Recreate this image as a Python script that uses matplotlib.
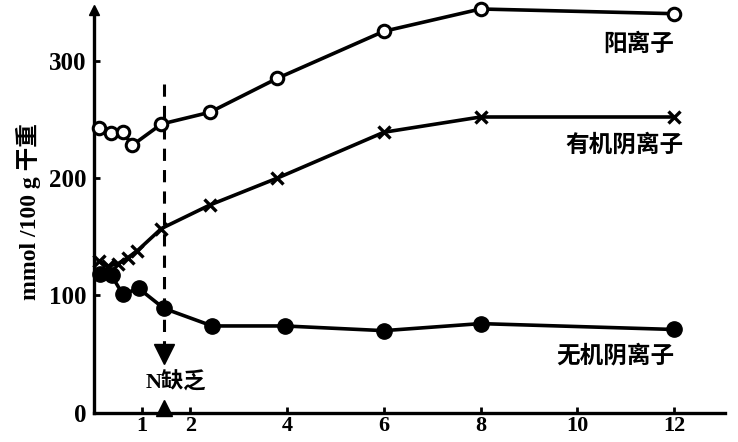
import matplotlib
matplotlib.use("Agg")
import matplotlib.pyplot as plt

plt.rcParams['font.family'] = ['Liberation Serif', 'Noto Sans CJK SC']
plt.rcParams['font.weight'] = 'bold'

# cation (open circles)
cat_x = [0.1, 0.35, 0.6, 0.8, 1.4, 2.4, 3.8, 6, 8, 12]
cat_y = [243, 238, 239, 228, 246, 256, 285, 325, 344, 340]
# organic anion (x markers)
org_x = [0.1, 0.3, 0.5, 0.7, 0.9, 1.4, 2.4, 3.8, 6, 8, 12]
org_y = [129, 125, 127, 132, 138, 157, 177, 200, 239, 252, 252]
# inorganic anion (filled circles)
inorg_x = [0.12, 0.37, 0.6, 0.93, 1.45, 2.45, 3.95, 6, 8, 12]
inorg_y = [118, 117, 101, 106, 89, 74, 74, 70, 76, 71]

xticks = [1, 2, 4, 6, 8, 10, 12]
yticks = [0, 100, 200, 300]
n_def_x = 1.45

fig = plt.figure(figsize=(7.38, 4.42), dpi=100)
ax = fig.add_axes([0.127, 0.066, 0.855, 0.911])

ax.plot(cat_x, cat_y, color='k', lw=2.6, marker='o', ms=9, mfc='white',
        mec='k', mew=2.2, clip_on=False, zorder=3)
ax.plot(org_x, org_y, color='k', lw=2.6, marker='x', ms=8, mew=2.4,
        clip_on=False, zorder=3)
ax.plot(inorg_x, inorg_y, color='k', lw=2.6, marker='o', ms=11, mfc='k',
        mec='k', clip_on=False, zorder=3)

# N deficiency marker
ax.plot([n_def_x, n_def_x], [280, 55], color='k', lw=2.2, ls=(0, (4, 3)))
ax.plot(n_def_x, 50, marker='v', color='k', ms=14, clip_on=False)
ax.plot(n_def_x, 4, marker='^', color='k', ms=11, clip_on=False)
ax.text(n_def_x + 0.25, 26, 'N缺乏', fontsize=16, fontweight='bold',
        ha='center', va='center')

ax.text(12, 314, '阳离子', fontsize=17, fontweight='bold', ha='right', va='center')
ax.text(12.2, 228, '有机阴离子', fontsize=17, fontweight='bold', ha='right', va='center')
ax.text(12, 48, '无机阴离子', fontsize=17, fontweight='bold', ha='right', va='center')

ax.set_xlim(0, 13.05)
ax.set_ylim(0, 343)
ax.set_xticks(xticks)
ax.set_yticks(yticks)
ax.tick_params(direction='in', length=4, width=2, labelsize=18, pad=5)
ax.tick_params(axis='x', labelsize=16, pad=2)
for lab in ax.get_xticklabels() + ax.get_yticklabels():
    lab.set_fontweight('bold')
ax.spines['top'].set_visible(False)
ax.spines['right'].set_visible(False)
ax.spines['left'].set_linewidth(2.4)
ax.spines['bottom'].set_linewidth(2.4)
ax.plot(0, 1, marker='^', color='k', ms=7, transform=ax.transAxes, clip_on=False)

ax.set_ylabel('mmol /100 g 干重', fontsize=17, fontweight='bold', labelpad=6)

fig.savefig('out.png', dpi=100)
